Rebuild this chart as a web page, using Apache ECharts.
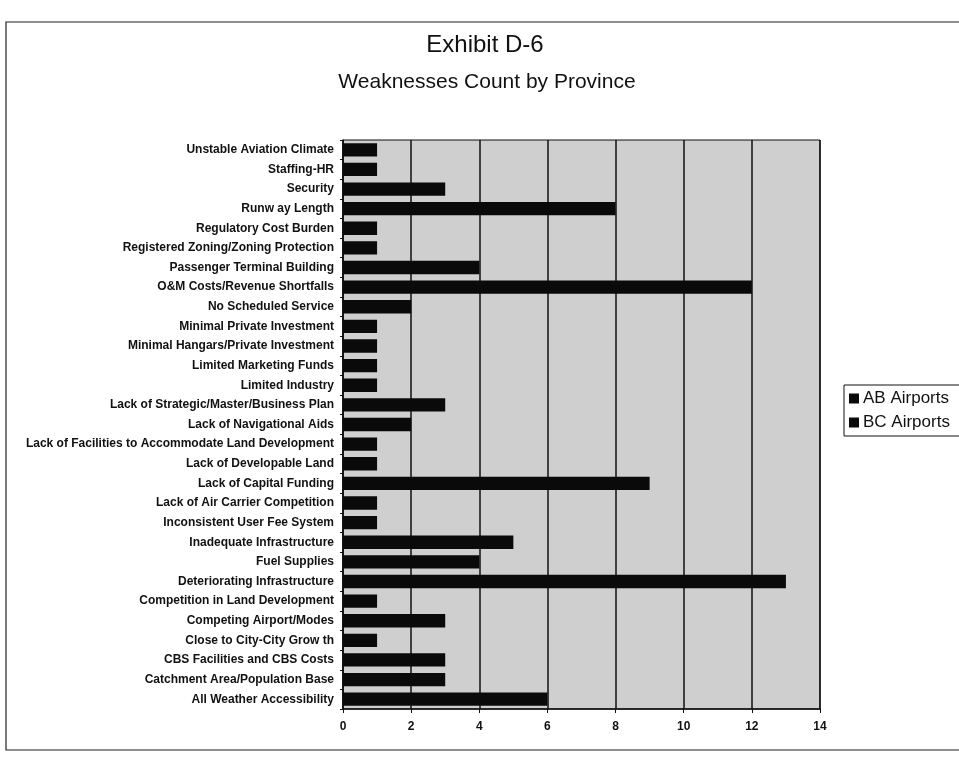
<!DOCTYPE html>
<html>
<head>
<meta charset="utf-8">
<script src="https://cdn.jsdelivr.net/npm/echarts@6/dist/echarts.min.js"></script>
<style>html,body{margin:0;padding:0;background:#fff}#c{width:959px;height:763px}</style>
</head>
<body>
<div id="c"></div>
<script>
const categories = [
  "Unstable Aviation Climate",
  "Staffing-HR",
  "Security",
  "Runw ay Length",
  "Regulatory Cost Burden",
  "Registered Zoning/Zoning Protection",
  "Passenger Terminal Building",
  "O&M Costs/Revenue Shortfalls",
  "No Scheduled Service",
  "Minimal Private Investment",
  "Minimal Hangars/Private Investment",
  "Limited Marketing Funds",
  "Limited Industry",
  "Lack of Strategic/Master/Business Plan",
  "Lack of Navigational Aids",
  "Lack of Facilities to Accommodate Land Development",
  "Lack of Developable Land",
  "Lack of Capital Funding",
  "Lack of Air Carrier Competition",
  "Inconsistent User Fee System",
  "Inadequate Infrastructure",
  "Fuel Supplies",
  "Deteriorating Infrastructure",
  "Competition in Land Development",
  "Competing Airport/Modes",
  "Close to City-City Grow th",
  "CBS Facilities and CBS Costs",
  "Catchment Area/Population Base",
  "All Weather Accessibility"
];
const abAirports = [1,1,3,8,1,1,4,12,2,1,1,1,1,3,2,1,1,9,1,1,5,4,13,1,3,1,3,3,6];
const bcAirports = [0,0,0,0,0,0,0,0,0,0,0,0,0,0,0,0,0,0,0,0,0,0,0,0,0,0,0,0,0];
const xTicks = [0,2,4,6,8,10,12,14];

const chart = echarts.init(document.getElementById('c'));
chart.setOption({
  animation: false,
  backgroundColor: '#fff',
  title: [
    {text: 'Exhibit D-6', left: 480, top: 28, textAlign: 'center',
     textStyle: {fontFamily: 'Liberation Sans, Arial', fontSize: 24, fontWeight: 'normal', color: '#111'}},
    {text: 'Weaknesses Count by Province', left: 482, top: 67, textAlign: 'center',
     textStyle: {fontFamily: 'Liberation Sans, Arial', fontSize: 21, fontWeight: 'normal', color: '#111'}}
  ],
  graphic: [
    {type: 'rect', shape: {x: 6, y: 22, width: 1000, height: 728},
     style: {fill: 'none', stroke: '#222', lineWidth: 1.2}, z: 0}
  ],
  legend: {
    orient: 'vertical', left: 844, top: 385,
    data: ['AB Airports', 'BC Airports'],
    itemWidth: 10, itemHeight: 10, itemGap: 7,
    icon: 'rect',
    borderColor: '#111', borderWidth: 1, padding: [5, 12, 5, 5],
    backgroundColor: '#fff',
    textStyle: {fontFamily: 'Liberation Sans, Arial', fontSize: 17, color: '#111', padding: [0,0,0,-1]}
  },
  grid: {
    left: 343, right: 139, top: 140, bottom: 54,
    show: true, backgroundColor: '#cfcfcf', borderColor: '#111', borderWidth: 1
  },
  xAxis: {
    type: 'value', min: 0, max: 14, interval: 2,
    axisLine: {show: true, lineStyle: {color: '#111', width: 1.5}},
    axisTick: {show: true, length: 4, lineStyle: {color: '#111'}},
    axisLabel: {color: '#111', fontFamily: 'Liberation Sans, Arial', fontSize: 12, fontWeight: 'bold', margin: 12,
      formatter: v => xTicks.includes(v) ? String(v) : ''},
    splitLine: {show: true, lineStyle: {color: '#111', width: 1.5}}
  },
  yAxis: {
    type: 'category', data: categories, inverse: true,
    axisLine: {show: true, lineStyle: {color: '#111', width: 1.5}},
    axisTick: {show: true, length: 3, lineStyle: {color: '#111'}},
    axisLabel: {color: '#111', fontFamily: 'Liberation Sans, Arial', fontSize: 12, fontWeight: 'bold', margin: 9, interval: 0},
    splitLine: {show: false}
  },
  series: [
    {name: 'AB Airports', type: 'bar', stack: 'total', data: abAirports,
     itemStyle: {color: '#0a0a0a'}, barCategoryGap: '32%'},
    {name: 'BC Airports', type: 'bar', stack: 'total', data: bcAirports,
     itemStyle: {color: '#0a0a0a'}, barCategoryGap: '32%'}
  ]
});
</script>
</body>
</html>
